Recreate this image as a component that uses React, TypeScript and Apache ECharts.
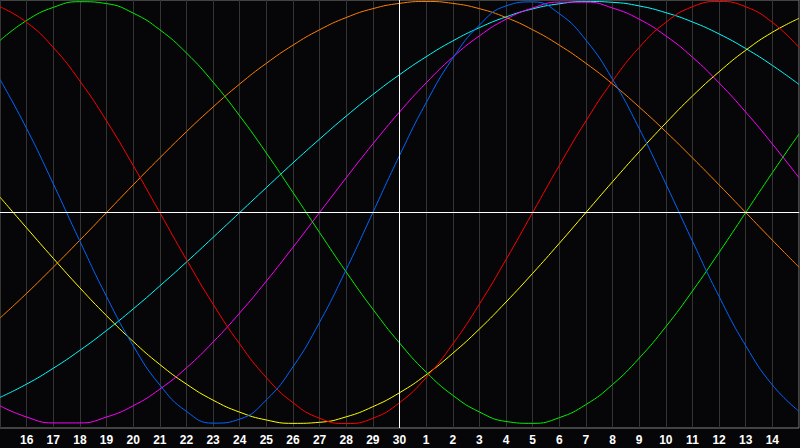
import React, { useEffect, useRef } from "react";
import * as echarts from "echarts";

const dayLabels = ["15","16","17","18","19","20","21","22","23","24","25","26","27","28","29","30","1","2","3","4","5","6","7","8","9","10","11","12","13","14","15"];

const physical = [0.631,0.398,0.136,-0.136,-0.398,-0.631,-0.817,-0.942,-0.998,-0.979,-0.888,-0.731,-0.520,-0.270,0,0.270,0.520,0.731,0.888,0.979,0.998,0.942,0.817,0.631,0.398,0.136,-0.136,-0.398,-0.631,-0.817,-0.942];
const emotional = [0.975,0.901,0.782,0.623,0.434,0.223,0,-0.223,-0.434,-0.623,-0.782,-0.901,-0.975,-1,-0.975,-0.901,-0.782,-0.623,-0.434,-0.223,0,0.223,0.434,0.623,0.782,0.901,0.975,1,0.975,0.901,0.782];
const intellectual = [0.815,0.910,0.972,0.999,0.990,0.945,0.866,0.756,0.618,0.458,0.282,0.095,-0.095,-0.282,-0.458,-0.618,-0.756,-0.866,-0.945,-0.990,-0.999,-0.972,-0.910,-0.815,-0.690,-0.541,-0.372,-0.189,0,0.189,0.372];
const intuitive = [-0.916,-0.969,-0.997,-0.997,-0.969,-0.916,-0.837,-0.736,-0.614,-0.476,-0.325,-0.165,0,0.165,0.325,0.476,0.614,0.736,0.837,0.916,0.969,0.997,0.997,0.969,0.916,0.837,0.736,0.614,0.476,0.325,0.165];
const aesthetic = [0.073,-0.073,-0.217,-0.357,-0.489,-0.611,-0.720,-0.813,-0.889,-0.946,-0.983,-0.999,-0.994,-0.968,-0.920,-0.854,-0.769,-0.667,-0.552,-0.424,-0.288,-0.146,0,0.146,0.288,0.424,0.552,0.667,0.769,0.854,0.920];
const awareness = [-0.5,-0.383,-0.259,-0.131,0,0.131,0.259,0.383,0.5,0.609,0.707,0.793,0.866,0.924,0.966,0.991,1,0.991,0.966,0.924,0.866,0.793,0.707,0.609,0.5,0.383,0.259,0.131,0,-0.131,-0.259];
const spiritual = [-0.876,-0.813,-0.738,-0.653,-0.559,-0.457,-0.348,-0.235,-0.118,0,0.118,0.235,0.348,0.457,0.559,0.653,0.738,0.813,0.876,0.927,0.965,0.989,1.000,0.996,0.979,0.947,0.903,0.846,0.777,0.697,0.607];

const todayIndex = 15;

const seriesDefs = [
  { name: "Spiritual", data: spiritual, color: "#00ffff" },
  { name: "Awareness", data: awareness, color: "#ff8000" },
  { name: "Aesthetic", data: aesthetic, color: "#ffff00" },
  { name: "Intuitive", data: intuitive, color: "#ff00ff" },
  { name: "Intellectual", data: intellectual, color: "#00f000" },
  { name: "Emotional", data: emotional, color: "#ff0000" },
  { name: "Physical", data: physical, color: "#0066ff" },
];

export default function App() {
  const ref = useRef<HTMLDivElement>(null);
  useEffect(() => {
    if (!ref.current) return;
    const chart = echarts.init(ref.current, undefined, { renderer: "svg" });
    const series: any[] = seriesDefs.map((s) => ({
      name: s.name,
      type: "line",
      data: s.data.map((v, i) => [i, v]),
      showSymbol: false,
      smooth: true,
      lineStyle: { color: s.color, width: 1 },
      itemStyle: { color: s.color },
      z: 3,
    }));
    series.push({
      name: "ref",
      type: "line",
      data: [],
      z: 2,
      markLine: {
        silent: true,
        symbol: "none",
        label: { show: false },
        lineStyle: { color: "#ffffff", width: 1, type: "solid" },
        data: [{ xAxis: todayIndex }, { yAxis: 0 }],
      },
    });
    chart.setOption({
      animation: false,
      backgroundColor: "#060608",
      grid: {
        left: 0,
        right: 1,
        top: 0,
        height: 428,
        show: true,
        borderColor: "#808080",
        borderWidth: 1,
        backgroundColor: "#060608",
      },
      xAxis: {
        type: "value",
        min: 0,
        max: dayLabels.length - 1,
        interval: 1,
        axisLine: { show: true, lineStyle: { color: "#a0a0a0", width: 1 } },
        axisTick: { show: false },
        splitLine: { show: true, lineStyle: { color: "#343434", width: 1 } },
        axisLabel: {
          show: true,
          showMinLabel: false,
          showMaxLabel: false,
          color: "#ffffff",
          fontWeight: "bold",
          fontSize: 12,
          fontFamily: "Liberation Sans",
          margin: 6,
          formatter: (v: number) => dayLabels[Math.round(v)] ?? "",
        },
      },
      yAxis: {
        type: "value",
        min: -1.021,
        max: 1.007,
        axisLine: { show: false },
        axisTick: { show: false },
        axisLabel: { show: false },
        splitLine: { show: false },
      },
      series,
    });
    return () => chart.dispose();
  }, []);
  return (
    <div
      ref={ref}
      style={{ position: "fixed", left: 0, top: 0, width: 800, height: 448, background: "#060608" }}
    />
  );
}
